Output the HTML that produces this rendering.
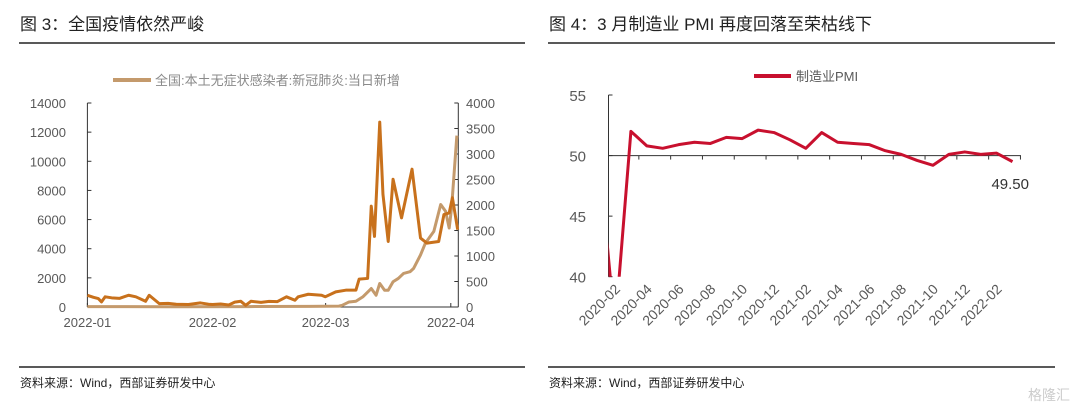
<!DOCTYPE html>
<html><head><meta charset="utf-8"><style>
body{margin:0;background:#fff;width:1080px;height:409px;overflow:hidden;font-family:"Liberation Sans","Noto Sans CJK SC",sans-serif}
svg text{font-family:"Liberation Sans","Noto Sans CJK SC",sans-serif}
</style></head><body>
<svg id="s" width="1080" height="409">
<text x="20" y="30" font-size="17" fill="#222">图 3：全国疫情依然严峻</text>
<text x="549" y="30" font-size="17" fill="#222">图 4：3 月制造业 PMI 再度回落至荣枯线下</text>
<line x1="19" y1="43" x2="525" y2="43" stroke="#222" stroke-width="1.5"/>
<line x1="548" y1="43" x2="1055" y2="43" stroke="#222" stroke-width="1.5"/>
<line x1="19" y1="367" x2="525" y2="367" stroke="#222" stroke-width="1.5"/>
<line x1="548" y1="367" x2="1055" y2="367" stroke="#222" stroke-width="1.5"/>
<text x="20" y="387" font-size="12" fill="#222">资料来源：Wind，西部证券研发中心</text>
<text x="549" y="387" font-size="12" fill="#222">资料来源：Wind，西部证券研发中心</text>
<text x="1028" y="400" font-size="14" fill="#ccc">格隆汇</text>
<g id="left"></g><g id="right"></g>
</svg>
<script>
// ---- Chart 1 data ----
const leftTicks=[0,2000,4000,6000,8000,10000,12000,14000];
const rightTicks=[0,500,1000,1500,2000,2500,3000,3500,4000];
const monthLabels=["2022-01","2022-02","2022-03","2022-04"];
const monthDays=[0,31,59,90];
const confDays=[0,1.5,2.7,3.5,4.4,6,8,10.2,12,14.4,15.3,17.8,20,22,25,28,30,31,33,35,36.5,38,39.2,40.5,43,45,47,49.3,51.4,52.2,54.7,58,58.9,61.5,64,66.5,67.3,69.4,70.3,71.1,72.4,73.2,74.5,75.7,77.8,80.4,82.5,84.1,87,88.3,89.6,90.4,91.7];
const confVals=[230,190,165,100,200,180,170,230,200,112,230,66,70,55,50,80,55,50,60,40,95,112,33,112,90,110,105,200,132,200,250,230,200,297,330,330,547,560,1977,1384,3625,2208,1285,2505,1747,2702,1351,1252,1285,1812,1845,2142,1516];
const asymDays=[0,20,40,55,62.3,63.1,64.8,66.5,68.2,70.3,71.5,72.4,73.6,74.5,75.7,77,78.3,79.9,80.8,82.5,83.7,85.8,87.5,88.7,89.6,90.2,91.5];
const asymVals=[30,20,30,40,60,115,346,392,692,1268,807,1614,1153,1153,1730,1960,2306,2421,2652,3575,4382,5189,7033,6572,5420,6803,11760];
// ---- Chart 2 data ----
const pmiMonths=["2020-01","2020-02","2020-03","2020-04","2020-05","2020-06","2020-07","2020-08","2020-09","2020-10","2020-11","2020-12","2021-01","2021-02","2021-03","2021-04","2021-05","2021-06","2021-07","2021-08","2021-09","2021-10","2021-11","2021-12","2022-01","2022-02","2022-03"];
const pmiVals=[50.0,35.7,52.0,50.8,50.6,50.9,51.1,51.0,51.5,51.4,52.1,51.9,51.3,50.6,51.9,51.1,51.0,50.9,50.4,50.1,49.6,49.2,50.1,50.3,50.1,50.2,49.5];
const pmiTicks=[40,45,50,55];

const NS="http://www.w3.org/2000/svg";
function mk(p,t,a){const e=document.createElementNS(NS,t);for(const k in a)e.setAttribute(k,a[k]);p.appendChild(e);return e;}
// Chart 1
const L=document.getElementById('left');
const x0=87.4,pxDay=(450.8-87.4)/90,yB=307,yT=103,xR=458.3;
const xd=d=>x0+d*pxDay, yl=v=>yB-(v/14000)*(yB-yT), yr=v=>yB-(v/4000)*(yB-yT);
let e=mk(L,'line',{x1:x0,y1:yT,x2:x0,y2:yB,stroke:'#333','stroke-width':1});

e=mk(L,'line',{x1:xR,y1:yT,x2:xR,y2:yB,stroke:'#333','stroke-width':1});

e=mk(L,'line',{x1:x0,y1:yB,x2:xR,y2:yB,stroke:'#333','stroke-width':1});

leftTicks.forEach(v=>{mk(L,'line',{x1:x0,y1:yl(v),x2:x0+4,y2:yl(v),stroke:'#333'});
 const t=mk(L,'text',{x:66,y:yl(v)+5,'text-anchor':'end','font-size':13,fill:'#595959'});t.textContent=v;
 });
rightTicks.forEach(v=>{mk(L,'line',{x1:xR-4,y1:yr(v),x2:xR,y2:yr(v),stroke:'#333'});
 const t=mk(L,'text',{x:466,y:yr(v)+5,'font-size':13,fill:'#595959'});t.textContent=v;
 });
monthLabels.forEach((m,i)=>{const x=xd(monthDays[i]);mk(L,'line',{x1:x,y1:yB,x2:x,y2:yB-4,stroke:'#333'});
 const t=mk(L,'text',{x:x,y:327,'text-anchor':'middle','font-size':13,fill:'#595959'});t.textContent=m;
 });
e=mk(L,'polyline',{points:asymDays.map((d,i)=>xd(d)+','+yl(asymVals[i])).join(' '),fill:'none',stroke:'#c49a6c','stroke-width':3,'stroke-linejoin':'round'});

e=mk(L,'polyline',{points:confDays.map((d,i)=>xd(d)+','+yr(confVals[i])).join(' '),fill:'none',stroke:'#c8711c','stroke-width':3,'stroke-linejoin':'round'});

e=mk(L,'line',{x1:113,y1:80,x2:151,y2:80,stroke:'#c49a6c','stroke-width':4});

e=mk(L,'text',{x:155,y:85,'font-size':13,fill:'#8a8a8a'});e.textContent='全国:本土无症状感染者:新冠肺炎:当日新增';

// Chart 2
const R=document.getElementById('right');
const ax=608.5,c0=615,pm=15.9,y55=95,y40=276.7,axEnd=1021;
const xm=i=>c0+(i-1)*pm, yp=v=>y40-(v-40)/15*(y40-y55);
const defs=mk(R,'defs',{});const cp=mk(defs,'clipPath',{id:'cp'});mk(cp,'rect',{x:ax,y:y55-10,width:axEnd-ax,height:y40-y55+10});
e=mk(R,'line',{x1:ax,y1:y55,x2:ax,y2:y40,stroke:'#333'});

e=mk(R,'line',{x1:ax,y1:yp(50),x2:axEnd,y2:yp(50),stroke:'#333'});

pmiTicks.forEach(v=>{mk(R,'line',{x1:ax,y1:yp(v),x2:ax+4,y2:yp(v),stroke:'#333'});
 const t=mk(R,'text',{x:586,y:yp(v)+6,'text-anchor':'end','font-size':15,fill:'#595959'});t.textContent=v;
 });
for(let i=2;i<pmiMonths.length;i+=2){const x=xm(i)+pm/2;mk(R,'line',{x1:x,y1:yp(50),x2:x,y2:yp(50)+4,stroke:'#333'});}
for(let i=1;i<pmiMonths.length-1;i+=2){const x=xm(i)+6;
 const t=mk(R,'text',{x:x,y:290,'text-anchor':'end','font-size':14,fill:'#595959',transform:`rotate(-45 ${x} 290)`});t.textContent=pmiMonths[i];
 }
e=mk(R,'polyline',{points:pmiVals.map((v,i)=>xm(i)+','+yp(v)).join(' '),fill:'none',stroke:'#c8102e','stroke-width':3,'stroke-linejoin':'round','clip-path':'url(#cp)'});

e=mk(R,'text',{x:1029,y:189,'text-anchor':'end','font-size':15,fill:'#333'});e.textContent=pmiVals[pmiVals.length-1].toFixed(2);

e=mk(R,'line',{x1:754,y1:76,x2:791,y2:76,stroke:'#c8102e','stroke-width':4});

e=mk(R,'text',{x:796,y:81,'font-size':13,fill:'#595959'});e.textContent='制造业PMI';

</script>
</body></html>
